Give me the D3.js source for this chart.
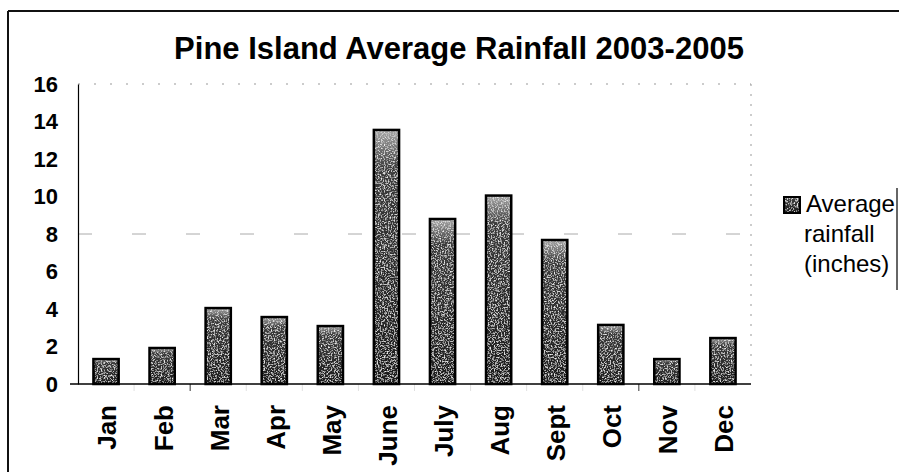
<!DOCTYPE html>
<html>
<head>
<meta charset="utf-8">
<script src="https://cdn.jsdelivr.net/npm/d3@7"></script>
<style>
    body { margin: 0; background: #fff; }
    text { font-family: "Liberation Sans", Arial, sans-serif; fill: #000; }
</style>
</head>
<body>
<svg id="canvas" width="899" height="472"></svg>
<script>
let months = ['Jan', 'Feb', 'Mar', 'Apr', 'May', 'June', 'July', 'Aug', 'Sept', 'Oct', 'Nov', 'Dec']
let rainfall = [1.33, 1.92, 4.05, 3.57, 3.09, 13.55, 8.8, 10.05, 7.68, 3.15, 1.33, 2.45]
let yTicks = [0, 2, 4, 6, 8, 10, 12, 14, 16]
let chartTitle = 'Pine Island Average Rainfall 2003-2005'
let legendLines = ['Average', 'rainfall', '(inches)']

let canvas = d3.select('#canvas')

let plot = { left: 78, right: 751, top: 84, bottom: 384 }

let xScale = d3.scaleBand()
                .domain(months)
                .range([plot.left, plot.right])
                .paddingInner(0.55)
                .paddingOuter(0.275)

let yScale = d3.scaleLinear()
                .domain([0, 16])
                .range([plot.bottom, plot.top])

// bar shading: light top fading into dark, like the scanned fill
let defs = canvas.append('defs')
let grad = defs.append('linearGradient')
                .attr('id', 'barFill')
                .attr('x1', 0).attr('y1', 0)
                .attr('x2', 0).attr('y2', 1)
grad.append('stop').attr('offset', '0%').attr('stop-color', '#a8a8a8')
grad.append('stop').attr('offset', '15%').attr('stop-color', '#3c3c3c')
grad.append('stop').attr('offset', '100%').attr('stop-color', '#1c1c1c')

// speckle texture on top of the fill (scan grain)
let speckle = defs.append('filter')
                .attr('id', 'speckle')
                .attr('x', 0).attr('y', 0)
                .attr('width', 1).attr('height', 1)
speckle.append('feTurbulence')
        .attr('type', 'fractalNoise')
        .attr('baseFrequency', 0.7)
        .attr('numOctaves', 2)
        .attr('seed', 4)
        .attr('result', 'noise')
speckle.append('feColorMatrix')
        .attr('in', 'noise')
        .attr('type', 'matrix')
        .attr('values', '0 0 0 0 0.85  0 0 0 0 0.85  0 0 0 0 0.85  3.2 0 0 0 -1.55')
        .attr('result', 'spots')
speckle.append('feComposite')
        .attr('in', 'spots')
        .attr('in2', 'SourceGraphic')
        .attr('operator', 'in')
        .attr('result', 'clipped')
let merge = speckle.append('feMerge')
merge.append('feMergeNode').attr('in', 'SourceGraphic')
merge.append('feMergeNode').attr('in', 'clipped')

// outer chart frame (only top and left survive in the scan)
canvas.append('line')
        .attr('x1', 8).attr('y1', 11).attr('x2', 899).attr('y2', 11)
        .attr('stroke', '#111').attr('stroke-width', 2)
canvas.append('line')
        .attr('x1', 8).attr('y1', 11).attr('x2', 8).attr('y2', 472)
        .attr('stroke', '#111').attr('stroke-width', 2)

// title
canvas.append('text')
        .attr('x', 459)
        .attr('y', 59)
        .attr('text-anchor', 'middle')
        .style('font-size', '31px')
        .style('font-weight', 'bold')
        .text(chartTitle)

// faint plot-area border (top and right) and leftover gridline at 8
canvas.append('line')
        .attr('x1', plot.left).attr('y1', yScale(16))
        .attr('x2', plot.right).attr('y2', yScale(16))
        .attr('stroke', '#999').attr('stroke-width', 1)
        .attr('stroke-dasharray', '2,14')
canvas.append('line')
        .attr('x1', plot.right).attr('y1', plot.top)
        .attr('x2', plot.right).attr('y2', plot.bottom)
        .attr('stroke', '#999').attr('stroke-width', 1)
        .attr('stroke-dasharray', '2,8')
canvas.append('line')
        .attr('x1', plot.left).attr('y1', yScale(8))
        .attr('x2', plot.right).attr('y2', yScale(8))
        .attr('stroke', '#aaa').attr('stroke-width', 1)
        .attr('stroke-dasharray', '14,40')

// bars: textured fill, then a crisp outline
let bars = canvas.selectAll('.bar')
        .data(rainfall)
        .enter()
        .append('g')
        .attr('class', 'bar')

bars.append('rect')
        .attr('x', (d, i) => xScale(months[i]))
        .attr('y', (d) => yScale(d))
        .attr('width', xScale.bandwidth())
        .attr('height', (d) => yScale(0) - yScale(d))
        .attr('fill', 'url(#barFill)')
        .attr('filter', 'url(#speckle)')

bars.append('rect')
        .attr('x', (d, i) => xScale(months[i]))
        .attr('y', (d) => yScale(d))
        .attr('width', xScale.bandwidth())
        .attr('height', (d) => yScale(0) - yScale(d))
        .attr('fill', 'none')
        .attr('stroke', '#000')
        .attr('stroke-width', 2.5)

// y axis
let yAxis = d3.axisLeft(yScale)
                .tickValues(yTicks)
                .tickSize(0)
                .tickPadding(20)
let yAxisGroup = canvas.append('g')
                    .attr('transform', 'translate(' + plot.left + ',0)')
                    .call(yAxis)
yAxisGroup.select('.domain').attr('stroke', '#000').attr('stroke-width', 1.2)
yAxisGroup.selectAll('text')
            .style('font-size', '22px')
            .style('font-weight', 'bold')
            .style('font-family', '"Liberation Sans", Arial, sans-serif')

// x axis line (extends a bit left of the y axis)
canvas.append('line')
        .attr('x1', plot.left - 8).attr('y1', yScale(0))
        .attr('x2', plot.right).attr('y2', yScale(0))
        .attr('stroke', '#000').attr('stroke-width', 1.5)

// category tick marks at band boundaries, mostly faded
let step = xScale.step()
canvas.selectAll('.xtick')
        .data(d3.range(1, months.length))
        .enter()
        .append('line')
        .attr('class', 'xtick')
        .attr('x1', (i) => xScale(months[i]) - step * xScale.paddingInner() / 2)
        .attr('x2', (i) => xScale(months[i]) - step * xScale.paddingInner() / 2)
        .attr('y1', yScale(0))
        .attr('y2', yScale(0) + 7)
        .attr('stroke', '#000')
        .attr('stroke-opacity', (i) => (i === 2 || i === 10) ? 0.8 : 0.12)

// x labels, rotated
canvas.selectAll('.xlabel')
        .data(months)
        .enter()
        .append('text')
        .attr('class', 'xlabel')
        .attr('transform', (m) => 'translate(' + (xScale(m) + xScale.bandwidth() / 2 + 1) + ',' + 405 + ') rotate(-90)')
        .attr('text-anchor', 'end')
        .attr('dy', '0.36em')
        .style('font-size', '26px')
        .style('font-weight', 'bold')
        .text((m) => m)

// legend
let legend = canvas.append('g')
legend.append('rect')
        .attr('x', 784).attr('y', 197)
        .attr('width', 16).attr('height', 16)
        .attr('fill', 'url(#barFill)')
        .attr('filter', 'url(#speckle)')
legend.append('rect')
        .attr('x', 784).attr('y', 197)
        .attr('width', 16).attr('height', 16)
        .attr('fill', 'none')
        .attr('stroke', '#000').attr('stroke-width', 2)
legend.selectAll('text')
        .data(legendLines)
        .enter()
        .append('text')
        .attr('x', (d, i) => i === 0 ? 806 : 804)
        .attr('y', (d, i) => 212 + i * 30)
        .style('font-size', '24px')
        .text((d) => d)
legend.append('line')
        .attr('x1', 897).attr('y1', 188).attr('x2', 897).attr('y2', 290)
        .attr('stroke', '#333').attr('stroke-width', 1.5)
</script>
</body>
</html>
